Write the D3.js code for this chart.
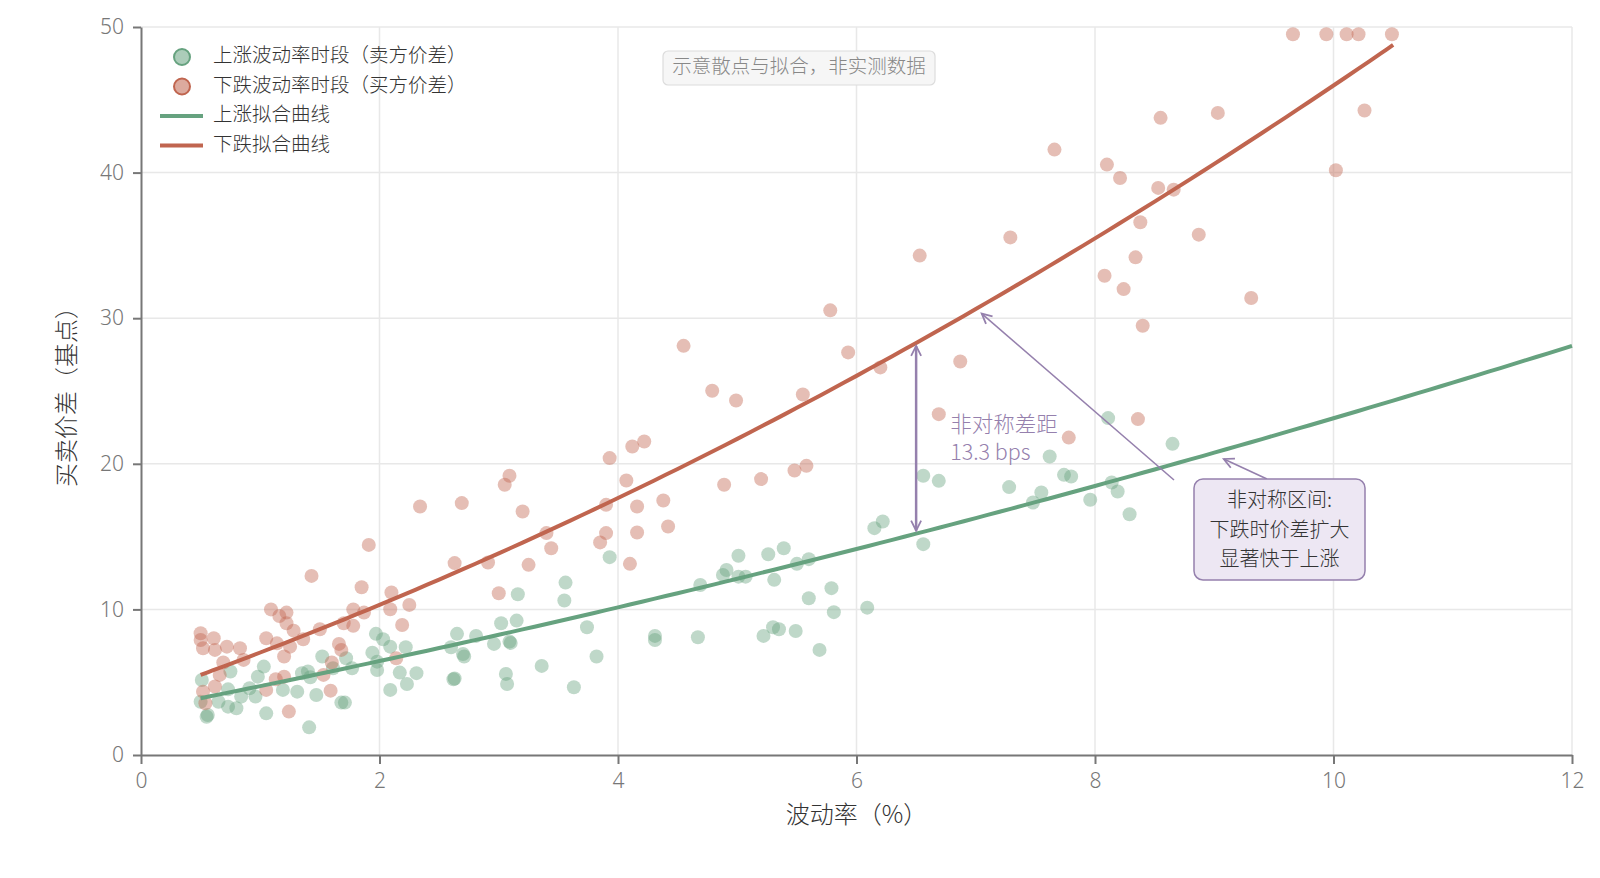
<!DOCTYPE html>
<html>
<head>
<meta charset="utf-8">
<script src="https://cdn.jsdelivr.net/npm/d3@7"></script>
<style>
  body { margin: 0; background: #fff; }
  text { font-family: "Noto Sans CJK SC", "Noto Sans", sans-serif; font-weight: 300; }
</style>
</head>
<body>
<script>
const width = 1600,
    height = 878

const margin = { top: 27, right: 28, bottom: 123, left: 141 }

// scatter: [volatility %, spread bps]
const upPoints = [
    [1.97, 8.32], [2.03, 7.95], [2.09, 7.44], [2.22, 7.40], [1.94, 7.03], [1.98, 6.41],
    [1.98, 5.84], [2.17, 5.66], [2.31, 5.62], [2.23, 4.88], [2.09, 4.47], [1.52, 6.76],
    [1.72, 6.64], [1.77, 5.96], [1.61, 5.96], [1.40, 5.73], [1.35, 5.62], [1.42, 5.34],
    [1.03, 6.07], [0.98, 5.38], [0.91, 4.58], [0.96, 4.01], [0.75, 5.73], [0.73, 4.51],
    [0.84, 4.01], [0.65, 3.66], [0.73, 3.32], [0.80, 3.21], [0.50, 3.66], [0.55, 2.63],
    [0.56, 2.75], [0.51, 5.15], [1.05, 2.86], [1.19, 4.47], [1.31, 4.35], [1.47, 4.12],
    [1.68, 3.60], [1.71, 3.60], [1.41, 1.90],
    [3.93, 13.59], [3.56, 11.84], [3.55, 10.61], [3.16, 11.04], [3.02, 9.05], [3.15, 9.23],
    [2.65, 8.32], [2.81, 8.18], [2.60, 7.40], [2.70, 6.94], [2.71, 6.76], [2.96, 7.63],
    [3.09, 7.79], [3.10, 7.70], [3.74, 8.77], [3.82, 6.76], [3.36, 6.12], [3.06, 5.57],
    [3.07, 4.88], [2.62, 5.20], [2.63, 5.25], [3.63, 4.65], [4.31, 8.18], [4.31, 7.90],
    [4.67, 8.09], [4.69, 11.68], [4.88, 12.37], [4.91, 12.71], [5.01, 13.68], [5.01, 12.25],
    [5.07, 12.25],
    [5.26, 13.79], [5.39, 14.20], [5.50, 13.13], [5.60, 13.45], [5.31, 12.03], [5.60, 10.77],
    [5.79, 11.46], [5.81, 9.81], [6.09, 10.12], [5.22, 8.18], [5.30, 8.77], [5.35, 8.64],
    [5.49, 8.52], [5.69, 7.22], [6.15, 15.58], [6.22, 16.04], [6.56, 14.48], [6.56, 19.18],
    [6.69, 18.83], [7.28, 18.40], [7.48, 17.34], [7.55, 18.03], [7.62, 20.50], [7.74, 19.24],
    [7.80, 19.13], [7.96, 17.53], [8.11, 23.14], [8.14, 18.72], [8.19, 18.10], [8.29, 16.54],
    [8.65, 21.37]
]

const downPoints = [
    [1.91, 14.43], [1.43, 12.30], [1.85, 11.52], [2.10, 11.16], [2.25, 10.31], [2.09, 10.01],
    [1.78, 10.00], [1.87, 9.78], [1.09, 10.00], [1.22, 9.78], [1.16, 9.55], [1.22, 9.05],
    [1.28, 8.54], [1.36, 7.95], [1.50, 8.64], [1.70, 9.05], [1.78, 8.87], [2.19, 8.93],
    [0.50, 8.36], [0.50, 7.90], [0.61, 8.02], [0.52, 7.33], [0.62, 7.22], [0.72, 7.44],
    [0.83, 7.33], [1.05, 8.02], [1.14, 7.67], [1.25, 7.44], [0.86, 6.53], [0.69, 6.35],
    [1.66, 7.63], [1.68, 7.22], [1.20, 6.76], [1.60, 6.35], [2.14, 6.64], [0.66, 5.50],
    [0.62, 4.70], [0.52, 4.35], [0.54, 3.55], [1.05, 4.47], [1.13, 5.20], [1.20, 5.38],
    [1.53, 5.50], [1.59, 4.42], [1.24, 2.98],
    [2.34, 17.07], [2.69, 17.30], [3.09, 19.18], [3.05, 18.56], [3.20, 16.72], [2.63, 13.18],
    [2.91, 13.22], [3.00, 11.11], [3.25, 13.06], [3.40, 15.24], [3.44, 14.20], [3.93, 20.39],
    [4.12, 21.19], [4.22, 21.53], [4.07, 18.85], [3.90, 17.18], [4.16, 17.07], [4.38, 17.48],
    [3.90, 15.24], [3.85, 14.60], [4.16, 15.28], [4.42, 15.69], [4.10, 13.13], [4.89, 18.56],
    [5.20, 18.95], [5.48, 19.54], [5.58, 19.86],
    [6.53, 34.30], [5.78, 30.54], [4.55, 28.10], [5.93, 27.65], [6.20, 26.62], [4.79, 25.02],
    [4.99, 24.35], [5.55, 24.76], [6.69, 23.41], [6.87, 27.03], [7.78, 21.80], [8.36, 23.07],
    [7.66, 41.58], [8.55, 43.76], [9.03, 44.10], [10.26, 44.26], [10.02, 40.16], [8.10, 40.55],
    [8.21, 39.63], [8.53, 38.95], [8.66, 38.83], [8.38, 36.59], [7.29, 35.55], [8.87, 35.74],
    [8.34, 34.18], [8.08, 32.92], [8.24, 32.00], [9.31, 31.39], [8.40, 29.48],
    [9.66, 49.5], [9.94, 49.5], [10.11, 49.5], [10.21, 49.5], [10.49, 49.5]
]

// quadratic fits a + b*x + c*x^2, with x range
const upFit = [3.089, 1.602, 0.0402]
const upFitRange = [0.5, 12]
const downFit = [4.03, 2.878, 0.1317]
const downFitRange = [0.5, 10.5]

const xTicks = [0, 2, 4, 6, 8, 10, 12]
const yTicks = [0, 10, 20, 30, 40, 50]

const legendLabels = ["上涨波动率时段（卖方价差）", "下跌波动率时段（买方价差）", "上涨拟合曲线", "下跌拟合曲线"]

const gapAt = 6.5
const gapLabel = ["非对称差距", "13.3 bps"]
const noteLabel = "示意散点与拟合，非实测数据"
const boxLabel = ["非对称区间:", "下跌时价差扩大", "显著快于上涨"]

const green = "#66a27f",
    red = "#c0654f",
    purple = "#9580ad"

const svg = d3.select("body")
    .append("svg")
    .attr("width", width)
    .attr("height", height)

const x = d3.scaleLinear().domain([0, 12]).range([margin.left, width - margin.right])
const y = d3.scaleLinear().domain([0, 50]).range([height - margin.bottom, margin.top])

const fit = (c) => (v) => c[0] + c[1] * v + c[2] * v * v

// grid
svg.append("g")
    .selectAll("line")
    .data(xTicks.slice(1))
    .join("line")
    .attr("x1", d => x(d)).attr("x2", d => x(d))
    .attr("y1", y(0)).attr("y2", y(50))
    .attr("stroke", "#e8e8e8").attr("stroke-width", 1.5)
svg.append("g")
    .selectAll("line")
    .data(yTicks.slice(1))
    .join("line")
    .attr("y1", d => y(d)).attr("y2", d => y(d))
    .attr("x1", x(0)).attr("x2", x(12))
    .attr("stroke", "#e8e8e8").attr("stroke-width", 1.5)

// axes
const xAxis = svg.append("g")
    .attr("transform", `translate(0, ${y(0)})`)
    .call(d3.axisBottom(x).tickValues(xTicks).tickSize(9).tickPadding(9).tickSizeOuter(0))
const yAxis = svg.append("g")
    .attr("transform", `translate(${x(0)}, 0)`)
    .call(d3.axisLeft(y).tickValues(yTicks).tickSize(8).tickPadding(9).tickSizeOuter(0))

for (const ax of [xAxis, yAxis]) {
    ax.select(".domain").attr("stroke", "#777").attr("stroke-width", 2)
    ax.selectAll(".tick line").attr("stroke", "#777").attr("stroke-width", 2)
    ax.selectAll(".tick text")
        .attr("fill", "#777")
        .style("font-size", "21px")
        .style("font-family", "'Noto Sans', sans-serif")
        .style("font-weight", 300)
}

svg.append("text")
    .attr("x", (x(0) + x(12)) / 2)
    .attr("y", 816)
    .attr("text-anchor", "middle")
    .attr("dominant-baseline", "middle")
    .attr("fill", "#333")
    .style("font-size", "24px")
    .text("波动率（%）")

svg.append("text")
    .attr("transform", `translate(68, ${(y(0) + y(50)) / 2}) rotate(-90)`)
    .attr("text-anchor", "middle")
    .attr("dominant-baseline", "middle")
    .attr("fill", "#333")
    .style("font-size", "24px")
    .text("买卖价差（基点）")

// scatter
svg.append("g")
    .selectAll("circle")
    .data(upPoints)
    .join("circle")
    .attr("cx", d => x(d[0]))
    .attr("cy", d => y(d[1]))
    .attr("r", 7)
    .attr("fill", green)
    .style("opacity", 0.42)

svg.append("g")
    .selectAll("circle")
    .data(downPoints)
    .join("circle")
    .attr("cx", d => x(d[0]))
    .attr("cy", d => y(d[1]))
    .attr("r", 7)
    .attr("fill", red)
    .style("opacity", 0.42)

// fit curves
const line = d3.line().x(d => x(d[0])).y(d => y(d[1])).curve(d3.curveCatmullRom)

const curve = (c, range) => d3.range(range[0], range[1] + 1e-9, 0.1).map(v => [v, fit(c)(v)])

svg.append("path")
    .attr("d", line(curve(upFit, upFitRange)))
    .attr("fill", "none")
    .attr("stroke", green)
    .attr("stroke-width", 4)

svg.append("path")
    .attr("d", line(curve(downFit, downFitRange)))
    .attr("fill", "none")
    .attr("stroke", red)
    .attr("stroke-width", 4)

// arrow markers
const defs = svg.append("defs")
defs.append("marker")
    .attr("id", "arrow")
    .attr("viewBox", "-12 -7 14 14")
    .attr("refX", 0).attr("refY", 0)
    .attr("markerWidth", 14).attr("markerHeight", 14)
    .attr("markerUnits", "userSpaceOnUse")
    .attr("orient", "auto-start-reverse")
    .append("path")
    .attr("d", "M-10,-5 L0,0 L-10,5")
    .attr("fill", "none")
    .attr("stroke", purple)
    .attr("stroke-width", 1.8)

// gap arrow
const gx = x(gapAt)
svg.append("line")
    .attr("x1", gx).attr("x2", gx)
    .attr("y1", y(fit(downFit)(gapAt)) + 3)
    .attr("y2", y(fit(upFit)(gapAt)) - 3)
    .attr("stroke", purple)
    .attr("stroke-width", 2.5)
    .attr("marker-start", "url(#arrow)")
    .attr("marker-end", "url(#arrow)")

svg.append("text")
    .attr("fill", purple)
    .style("font-size", "21.5px")
    .selectAll("tspan")
    .data(gapLabel)
    .join("tspan")
    .attr("x", gx + 34)
    .attr("y", (d, i) => 432 + i * 28)
    .text(d => d)

// explanatory box with two arrows
const boxX = 1194, boxY = 479, boxW = 171, boxH = 101
svg.append("line")
    .attr("x1", 1174).attr("y1", 480)
    .attr("x2", x(7.05)).attr("y2", y(fit(downFit)(7.05)) + 8)
    .attr("stroke", purple).attr("stroke-width", 1.6)
    .attr("marker-end", "url(#arrow)")
svg.append("line")
    .attr("x1", 1267).attr("y1", 479)
    .attr("x2", x(9.08)).attr("y2", y(fit(upFit)(9.08)) + 9)
    .attr("stroke", purple).attr("stroke-width", 1.6)
    .attr("marker-end", "url(#arrow)")

svg.append("rect")
    .attr("x", boxX).attr("y", boxY)
    .attr("width", boxW).attr("height", boxH)
    .attr("rx", 9)
    .attr("fill", "#ede7f3")
    .attr("stroke", purple)
    .attr("stroke-width", 1.5)

svg.append("text")
    .attr("text-anchor", "middle")
    .attr("fill", "#333")
    .style("font-size", "20px")
    .selectAll("tspan")
    .data(boxLabel)
    .join("tspan")
    .attr("x", boxX + boxW / 2)
    .attr("y", (d, i) => 507 + i * 29.5)
    .text(d => d)

// note
svg.append("rect")
    .attr("x", 663).attr("y", 51)
    .attr("width", 272).attr("height", 34)
    .attr("rx", 5)
    .attr("fill", "#f6f6f6")
    .attr("stroke", "#dcdcdc")
    .attr("stroke-width", 1.2)
svg.append("text")
    .attr("x", 799).attr("y", 68)
    .attr("text-anchor", "middle")
    .attr("dominant-baseline", "middle")
    .attr("fill", "#888")
    .style("font-size", "19.5px")
    .text(noteLabel)

// legend
const legend = svg.append("g")
const rowY = (i) => 57 + i * 29.5
legend.selectAll("circle")
    .data([green, red])
    .join("circle")
    .attr("cx", 182)
    .attr("cy", (d, i) => rowY(i))
    .attr("r", 8)
    .attr("fill", d => d)
    .attr("fill-opacity", 0.55)
    .attr("stroke", d => d)
    .attr("stroke-width", 2)
legend.selectAll("line")
    .data([green, red])
    .join("line")
    .attr("x1", 160).attr("x2", 203)
    .attr("y1", (d, i) => rowY(i + 2)).attr("y2", (d, i) => rowY(i + 2))
    .attr("stroke", d => d)
    .attr("stroke-width", 4)
legend.selectAll("text")
    .data(legendLabels)
    .join("text")
    .attr("x", 213)
    .attr("y", (d, i) => rowY(i))
    .attr("dominant-baseline", "middle")
    .attr("fill", "#333")
    .style("font-size", "19.5px")
    .text(d => d)
</script>
</body>
</html>
